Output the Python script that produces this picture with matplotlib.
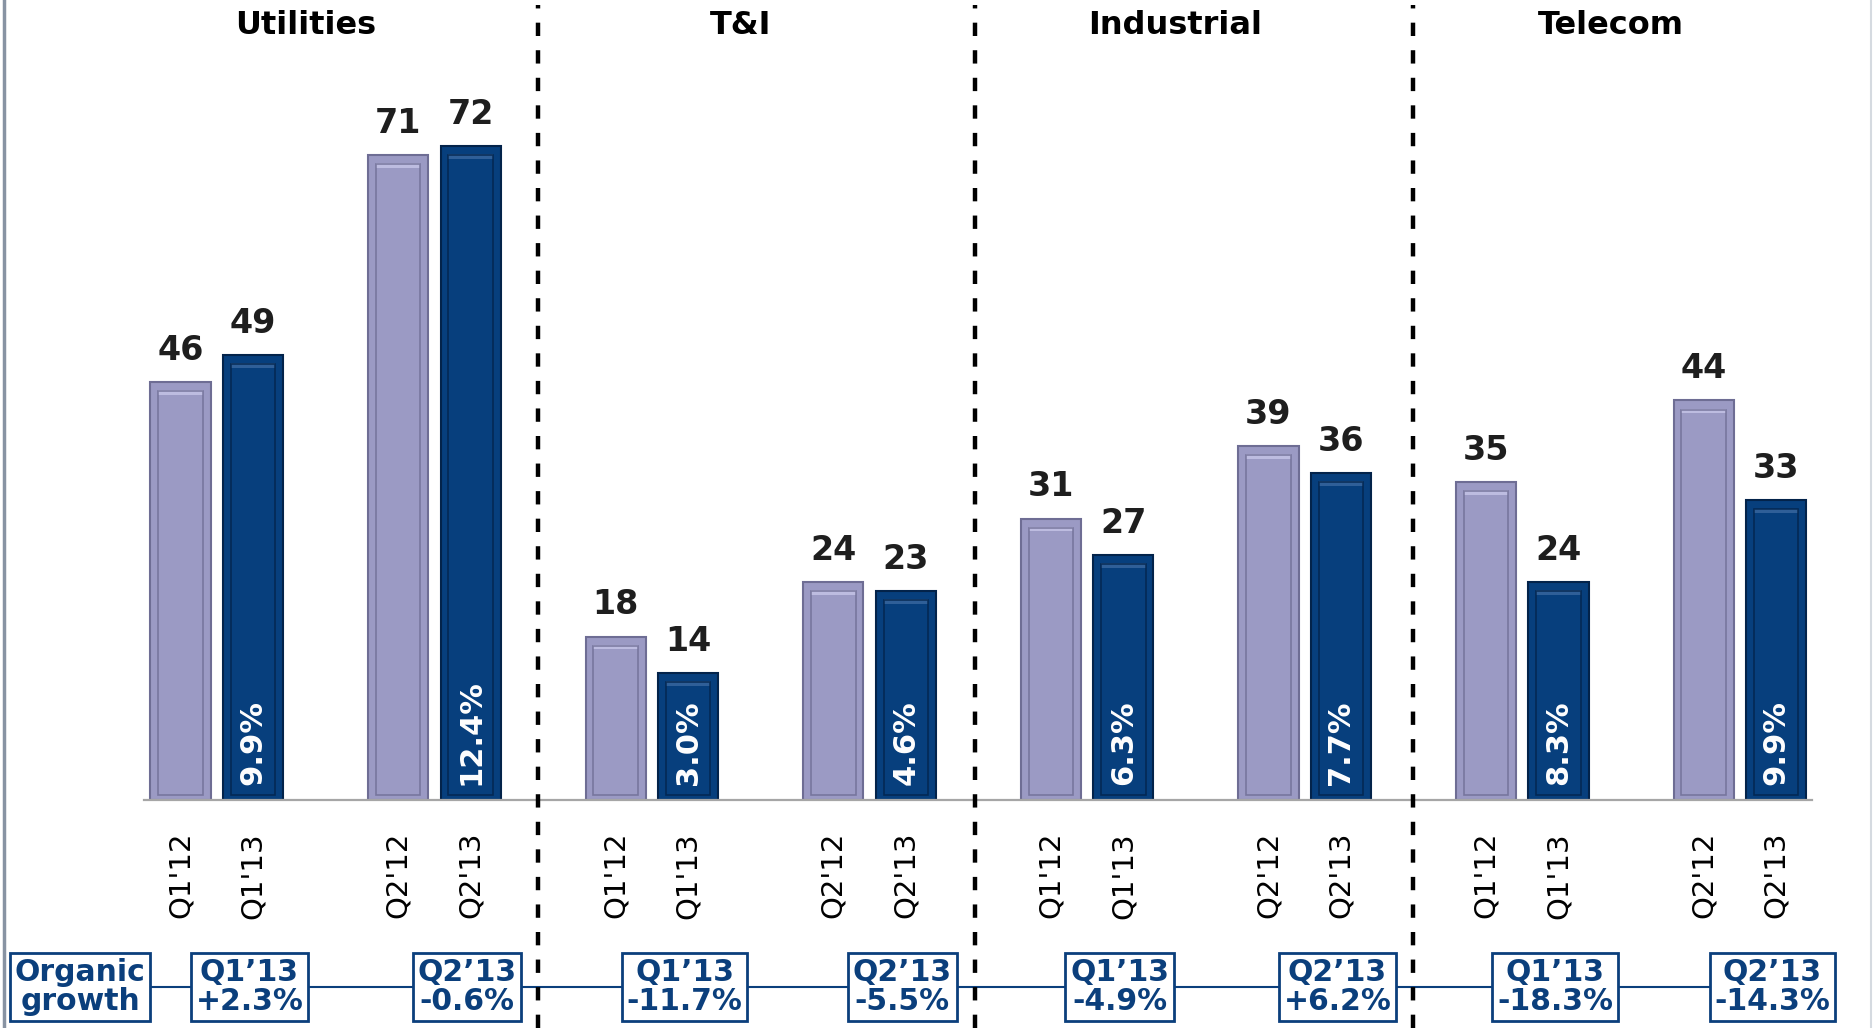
import matplotlib.pyplot as plt
from matplotlib.lines import Line2D
from matplotlib.transforms import blended_transform_factory

# data
segments = ['Utilities', 'T&I', 'Industrial', 'Telecom']
periods = ["Q1'12", "Q1'13", "Q2'12", "Q2'13"]
q1_12 = [46, 18, 31, 35]
q1_13 = [49, 14, 27, 24]
q2_12 = [71, 24, 39, 44]
q2_13 = [72, 23, 36, 33]
margin_q1_13 = ['9.9%', '3.0%', '6.3%', '8.3%']
margin_q2_13 = ['12.4%', '4.6%', '7.7%', '9.9%']
organic_q1_13 = ['+2.3%', '-11.7%', '-4.9%', '-18.3%']
organic_q2_13 = ['-0.6%', '-5.5%', '+6.2%', '-14.3%']

light = '#9B9AC4'
light_edge = '#6E6D94'
light_hi = '#BDBCE0'
dark = '#073F7D'
dark_edge = '#03234A'
dark_hi = '#2F5F98'
box_blue = '#0B3F7C'

W, H = 1873, 1028
fig = plt.figure(figsize=(W / 100, H / 100), dpi=100)
px_unit = 72.53
x_left = 180.5 - 0.5 * px_unit
ax = fig.add_axes([x_left / W, (H - 800) / H, 23 * px_unit / W, 800 / H])
ax.set_xlim(-0.5, 22.5)
ax.set_ylim(0, 800 / 9.08)

offsets = [0, 1, 3, 4]
series = [q1_12, q1_13, q2_12, q2_13]
bw = 0.83

xticks, xlabels = [], []
for s, seg in enumerate(segments):
    for k, vals in enumerate(series):
        x = s * 6 + offsets[k]
        v = vals[s]
        is_dark = k in (1, 3)
        fc = dark if is_dark else light
        ec = dark_edge if is_dark else light_edge
        hi = dark_hi if is_dark else light_hi
        ax.bar(x, v, width=bw, color=fc, edgecolor=ec, linewidth=1.5, zorder=2)
        # bevel: light strip at the top, darker inner frame
        ax.bar(x, 0.5, bottom=v - 1.4, width=bw * 0.74, color=hi, linewidth=0, zorder=3)
        ax.bar(x, v - 1.6, bottom=0.6, width=bw * 0.74, facecolor='none',
               edgecolor=ec, linewidth=1.2, alpha=0.8, zorder=3)
        ax.annotate(str(v), (x, v), xytext=(0, 16), textcoords='offset points',
                    ha='center', va='baseline', fontsize=24, fontweight='bold',
                    color='#1E1E1E')
        xticks.append(x)
        xlabels.append(periods[k])
    # margin labels inside the dark bars
    for k, lab in ((1, margin_q1_13[s]), (3, margin_q2_13[s])):
        ax.text(s * 6 + offsets[k], 1.6, lab, rotation=90, ha='center', va='bottom',
                fontsize=22, fontweight='bold', color='white', zorder=4)
    ax.text(s * 6 + 2 - 0.28, 85.3, seg, ha='center', va='center',
            fontsize=23, fontweight='bold', color='black')

ax.set_xticks(xticks)
ax.set_xticklabels(xlabels, rotation=90, fontsize=21, va='top', ha='center')
ax.tick_params(axis='x', length=0, pad=23)
ax.set_yticks([])
for side in ('top', 'left', 'right'):
    ax.spines[side].set_visible(False)
ax.spines['bottom'].set_color('#A6A6A6')
ax.spines['bottom'].set_linewidth(1.6)

tr = blended_transform_factory(ax.transData, fig.transFigure)

# dashed separators between segments
for xs in (4.93, 10.96, 16.99):
    fig.add_artist(Line2D([xs, xs], [0, 0.995], transform=tr, color='black',
                          linewidth=3.2, linestyle=(0, (3.0, 3.2))))

# organic growth strip
y_strip = (H - 987) / H
x_org = (80 - x_left) / px_unit - 0.5
box_xs = []
box_txt = []
for s in range(len(segments)):
    box_xs += [s * 6 + 1 - 0.05, s * 6 + 4 - 0.05]
    box_txt += ["Q1\u201913\n" + organic_q1_13[s], "Q2\u201913\n" + organic_q2_13[s]]
ax.plot([x_org, box_xs[-1]], [y_strip, y_strip], transform=tr, color=box_blue,
        linewidth=1.5, clip_on=False, zorder=1)
bbox = dict(boxstyle='square,pad=0.16', facecolor='white', edgecolor=box_blue, linewidth=2)
ax.text(x_org, y_strip, 'Organic\ngrowth', transform=tr, ha='center', va='center',
        fontsize=21.5, fontweight='bold', color=box_blue, linespacing=1.02,
        bbox=bbox, clip_on=False, zorder=5)
for xb, t in zip(box_xs, box_txt):
    ax.text(xb, y_strip, t, transform=tr, ha='center', va='center', fontsize=21.5,
            fontweight='bold', color=box_blue, linespacing=1.02, bbox=bbox,
            clip_on=False, zorder=5)

# slide border lines
fig.add_artist(Line2D([4 / W, 4 / W], [0, 1], transform=fig.transFigure,
                      color='#8893A3', linewidth=2.5))
fig.add_artist(Line2D([1871 / W, 1871 / W], [0, 1], transform=fig.transFigure,
                      color='#D5DAE0', linewidth=1.5))

fig.savefig('out.png', dpi=100)
